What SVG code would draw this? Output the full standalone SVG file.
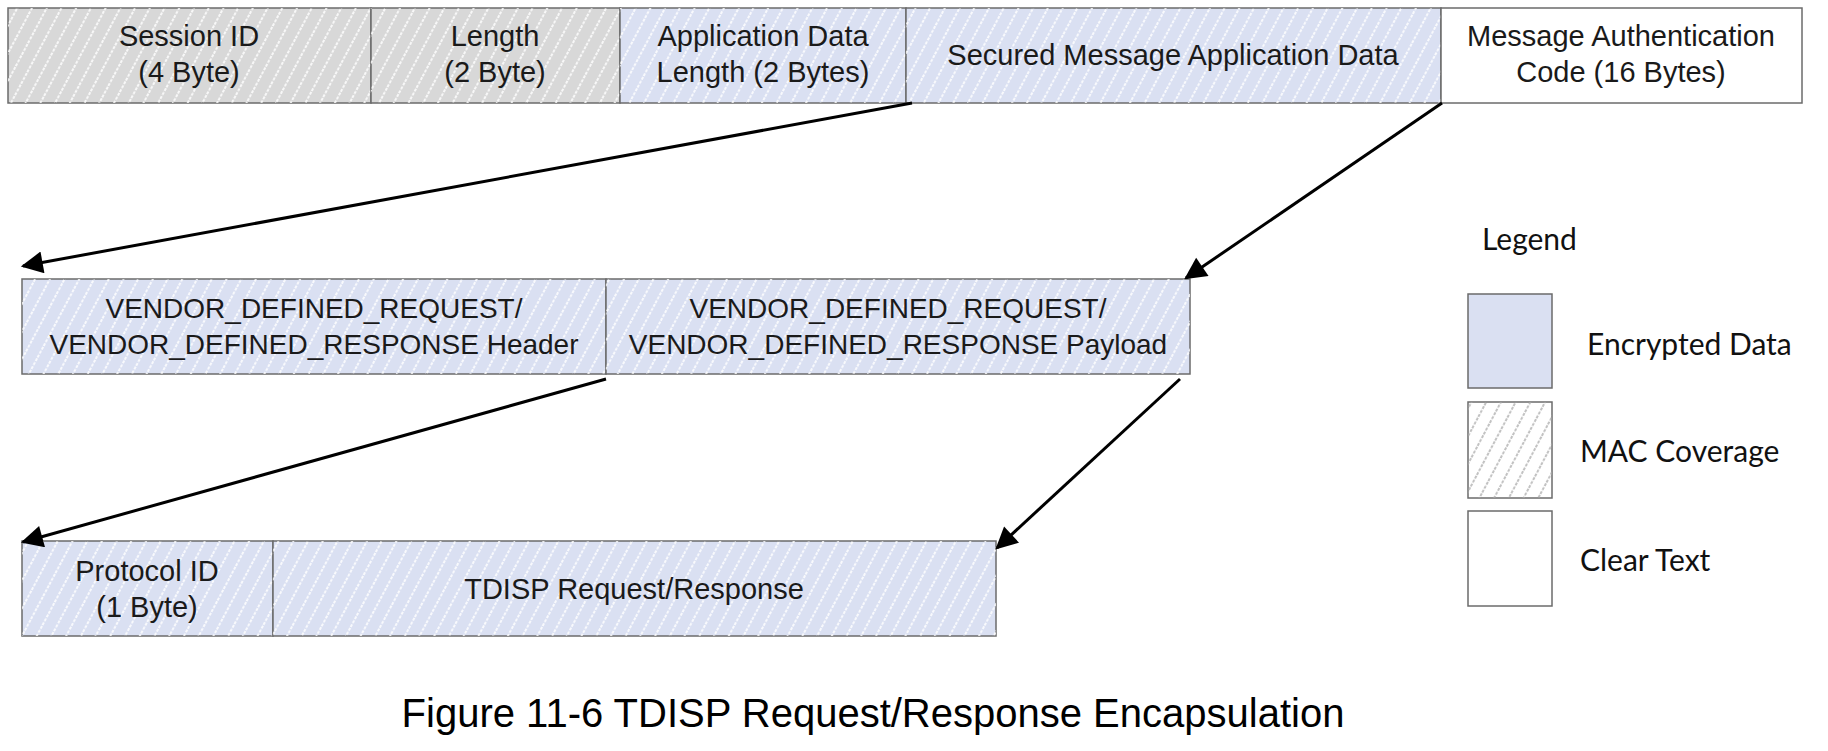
<svg xmlns="http://www.w3.org/2000/svg" width="1828" height="751" viewBox="0 0 1828 751">
<style>
.box{stroke:#6b6b6b;stroke-width:1.5}
.gray{fill:#d8d8d8}
.blue{fill:#dae0f2}
.white{fill:#ffffff}
.t{font-family:"Liberation Sans",Arial,sans-serif;font-size:29px;fill:#1a1a1a;text-anchor:middle}
.v{font-size:28px}
.lg{font-family:Lato,"Liberation Sans",sans-serif;font-size:30px;fill:#111}
.cap{font-family:"Liberation Sans",Arial,sans-serif;font-size:40px;fill:#000;text-anchor:middle}
.conn{stroke:#000;stroke-width:3;fill:none;marker-end:url(#ah)}
</style>
<defs>
<pattern id="hw" patternUnits="userSpaceOnUse" width="13" height="13" patternTransform="rotate(28)">
<line x1="6" y1="0" x2="6" y2="13" stroke="#ffffff" stroke-width="1.6" stroke-dasharray="3 1.5"/>
</pattern>
<pattern id="hg" patternUnits="userSpaceOnUse" width="13" height="13" patternTransform="rotate(28)">
<line x1="6" y1="0" x2="6" y2="13" stroke="#a8a8a8" stroke-width="1.4" stroke-dasharray="3 1.5"/>
</pattern>
<marker id="ah" viewBox="0 0 10 10" refX="9" refY="5" markerUnits="userSpaceOnUse" markerWidth="28" markerHeight="22" orient="auto">
<path d="M0,0 L10,5 L0,10 Z" fill="#000"/>
</marker>
</defs>

<g id="session-id">
<rect class="box gray" x="8" y="8" width="363" height="95"/>
<rect x="8" y="8" width="363" height="95" fill="url(#hw)"/>
<text class="t" x="189" y="46">Session ID</text>
<text class="t" x="189" y="82">(4 Byte)</text>
</g>
<g id="length">
<rect class="box gray" x="371" y="8" width="249" height="95"/>
<rect x="371" y="8" width="249" height="95" fill="url(#hw)"/>
<text class="t" x="495" y="46">Length</text>
<text class="t" x="495" y="82">(2 Byte)</text>
</g>
<g id="app-data-length">
<rect class="box blue" x="620" y="8" width="286" height="95"/>
<rect x="620" y="8" width="286" height="95" fill="url(#hw)"/>
<text class="t" x="763" y="46">Application Data</text>
<text class="t" x="763" y="82">Length (2 Bytes)</text>
</g>
<g id="secured-app-data">
<rect class="box blue" x="906" y="8" width="535" height="95"/>
<rect x="906" y="8" width="535" height="95" fill="url(#hw)"/>
<text class="t" x="1173" y="65">Secured Message Application Data</text>
</g>
<g id="mac">
<rect class="box white" x="1441" y="8" width="361" height="95"/>
<text class="t" x="1621" y="46">Message Authentication</text>
<text class="t" x="1621" y="82">Code (16 Bytes)</text>
</g>

<g id="vd-header">
<rect class="box blue" x="22" y="279" width="584" height="95"/>
<rect x="22" y="279" width="584" height="95" fill="url(#hw)"/>
<text class="t v" x="314" y="318">VENDOR_DEFINED_REQUEST/</text>
<text class="t v" x="314" y="354">VENDOR_DEFINED_RESPONSE Header</text>
</g>
<g id="vd-payload">
<rect class="box blue" x="606" y="279" width="584" height="95"/>
<rect x="606" y="279" width="584" height="95" fill="url(#hw)"/>
<text class="t v" x="898" y="318">VENDOR_DEFINED_REQUEST/</text>
<text class="t v" x="898" y="354">VENDOR_DEFINED_RESPONSE Payload</text>
</g>

<g id="protocol-id">
<rect class="box blue" x="22" y="541" width="251" height="95"/>
<rect x="22" y="541" width="251" height="95" fill="url(#hw)"/>
<text class="t" x="147" y="581">Protocol ID</text>
<text class="t" x="147" y="617">(1 Byte)</text>
</g>
<g id="tdisp">
<rect class="box blue" x="273" y="541" width="723" height="95"/>
<rect x="273" y="541" width="723" height="95" fill="url(#hw)"/>
<text class="t" x="634" y="599">TDISP Request/Response</text>
</g>

<g id="connectors">
<line class="conn" x1="912" y1="103" x2="23" y2="266"/>
<line class="conn" x1="1442" y1="103" x2="1186" y2="278"/>
<line class="conn" x1="606" y1="379" x2="23" y2="542"/>
<line class="conn" x1="1180" y1="379" x2="997" y2="548"/>
</g>

<g id="legend">
<text class="lg" x="1482" y="250">Legend</text>
<rect class="box blue" x="1468" y="294" width="84" height="94"/>
<text class="lg" x="1587" y="355">Encrypted Data</text>
<rect class="box white" x="1468" y="402" width="84" height="96"/>
<rect x="1468" y="402" width="84" height="96" fill="url(#hg)"/>
<text class="lg" x="1580" y="462">MAC Coverage</text>
<rect class="box white" x="1468" y="511" width="84" height="95"/>
<text class="lg" x="1580" y="571">Clear Text</text>
</g>

<text class="cap" x="873" y="727">Figure 11-6 TDISP Request/Response Encapsulation</text>
</svg>
